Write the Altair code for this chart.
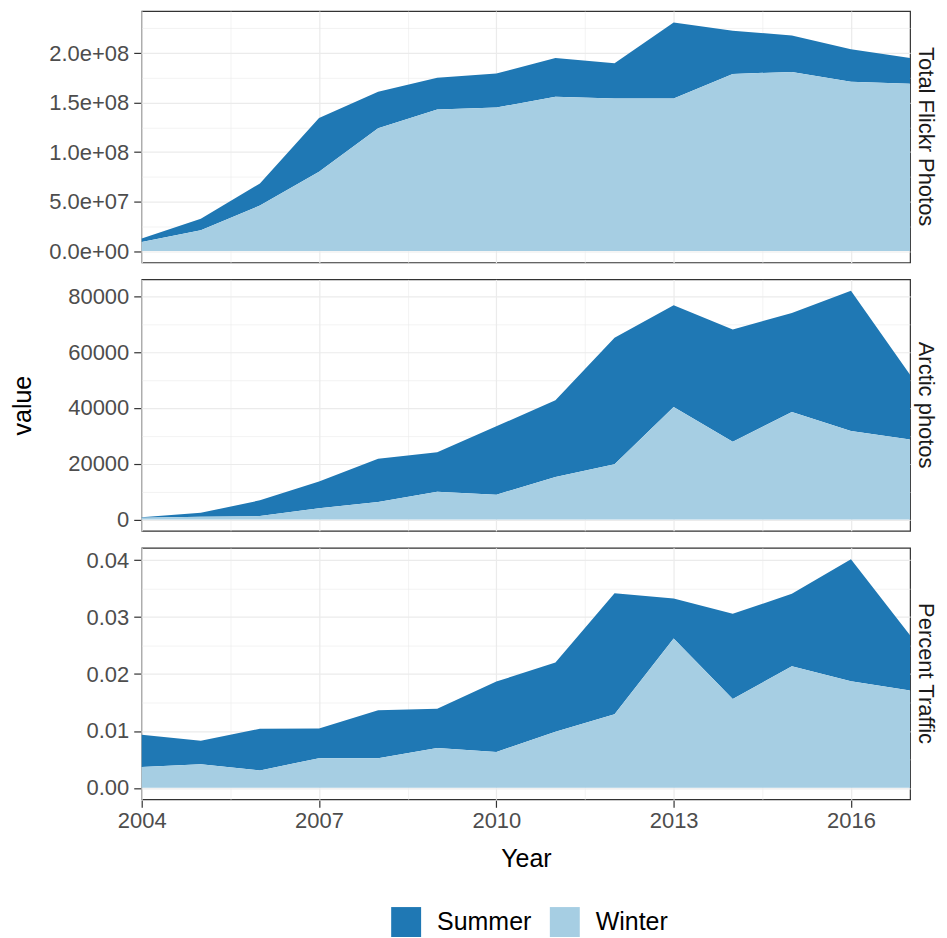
import altair as alt
import pandas as pd

years = list(range(2004, 2018))

flickr_summer = [3.7e6, 1.17e7, 2.23e7, 5.43e7, 3.7e7, 3.2e7, 3.43e7, 3.9e7, 3.57e7, 7.7e7, 4.37e7, 3.67e7, 3.3e7, 2.6e7]
flickr_winter = [9.0e6, 2.1e7, 4.6e7, 8.0e7, 1.24e8, 1.43e8, 1.45e8, 1.56e8, 1.54e8, 1.54e8, 1.79e8, 1.81e8, 1.71e8, 1.69e8]

arctic_summer = [230, 1370, 5670, 9630, 15500, 14110, 24520, 27580, 45380, 36500, 40290, 35560, 50240, 23200]
arctic_winter = [600, 1000, 1200, 4000, 6300, 9950, 8900, 15200, 19800, 40300, 27850, 38500, 31760, 28700]

traffic_summer = [0.00568, 0.00412, 0.00731, 0.00521, 0.0084, 0.0069, 0.01235, 0.01217, 0.02127, 0.00702, 0.015, 0.0127, 0.02145, 0.00974]
traffic_winter = [0.00365, 0.00417, 0.00307, 0.00522, 0.00522, 0.00701, 0.00632, 0.00986, 0.01293, 0.02626, 0.0156, 0.02139, 0.01872, 0.0171]

metrics = ["Total Flickr Photos", "Arctic photos", "Percent Traffic"]
seasons = ["Summer", "Winter"]
season_colors = ["#1F78B4", "#A6CEE3"]

x_ticks = [2004, 2005.5, 2007, 2008.5, 2010, 2011.5, 2013, 2014.5, 2016]
y_ticks_flickr = [0, 2.5e7, 5e7, 7.5e7, 1e8, 1.25e8, 1.5e8, 1.75e8, 2e8, 2.25e8]
y_ticks_arctic = [0, 10000, 20000, 30000, 40000, 50000, 60000, 70000, 80000]
y_ticks_traffic = [0, 0.005, 0.01, 0.015, 0.02, 0.025, 0.03, 0.035, 0.04]

FONT = "Liberation Sans"
GRID = "#EBEBEB"
DARK = "#333333"

x_minor = "datum.value % 3 != 0"


def cond(test, a, b):
    return {"condition": {"test": test, "value": a}, "value": b}


def panel(metric, summer, winter, yvals, minor_test, label_expr, bottom, ytitle):
    rows = []
    for i, yr in enumerate(years):
        rows.append({"metric": metric, "Year": yr, "season": "Summer", "value": summer[i], "rank": 1})
        rows.append({"metric": metric, "Year": yr, "season": "Winter", "value": winter[i], "rank": 0})
    df = pd.DataFrame(rows)
    mx = max(s + w for s, w in zip(summer, winter))
    lo, hi = -0.05 * mx, 1.05 * mx

    if bottom:
        xaxis = alt.Axis(
            values=x_ticks, format="d",
            labelExpr="datum.value % 3 == 0 ? datum.label : ''",
            labelFlush=False, labelOverlap=False,
            labelFontSize=22, labelColor="#4D4D4D", labelFont=FONT, labelPadding=3,
            tickSize=7, tickColor=DARK, tickWidth=1.2,
            tickOpacity=cond(x_minor, 0, 1),
            gridColor=GRID, gridWidth=cond(x_minor, 0.6, 1.2),
            domain=False, title="Year", titleFontSize=25, titleFont=FONT,
            titleFontWeight="normal", titleColor="#000000", titlePadding=15,
        )
    else:
        xaxis = alt.Axis(
            values=x_ticks, labels=False, ticks=False, domain=False, title=None,
            gridColor=GRID, gridWidth=cond(x_minor, 0.6, 1.2),
        )

    yaxis_kwargs = dict(
        values=yvals, labelExpr=label_expr, labelFlush=False, labelOverlap=False,
        labelFontSize=22, labelColor="#4D4D4D", labelFont=FONT, labelPadding=5,
        tickSize=7, tickColor=DARK, tickWidth=1.2,
        tickOpacity=cond(minor_test, 0, 1),
        gridColor=GRID, gridWidth=cond(minor_test, 0.6, 1.2),
        domain=False,
    )
    if ytitle:
        yaxis = alt.Axis(title=ytitle, titleFontSize=25, titleFont=FONT,
                         titleFontWeight="normal", titleColor="#000000",
                         titlePadding=32, **yaxis_kwargs)
    else:
        yaxis = alt.Axis(title=None, **yaxis_kwargs)

    base = alt.Chart(df).mark_area(opacity=1).encode(
        x=alt.X("Year:Q", axis=xaxis,
                scale=alt.Scale(domain=[2004, 2017], nice=False, zero=False)),
        y=alt.Y("value:Q", stack="zero", axis=yaxis,
                scale=alt.Scale(domain=[lo, hi], nice=False, zero=False)),
        color=alt.Color("season:N",
                        scale=alt.Scale(domain=seasons, range=season_colors),
                        legend=alt.Legend(
                            orient="none", legendX=250, legendY=898,
                            direction="horizontal", title=None,
                            symbolType="square", symbolSize=900,
                            symbolStrokeWidth=0, symbolOpacity=1,
                            labelFontSize=25, labelFont=FONT, labelColor="#000000",
                            labelOffset=16, columnPadding=18,
                        )),
        order=alt.Order("rank:Q"),
    ).properties(width=770, height=252)

    return base.facet(
        row=alt.Row("metric:N", title=None,
                    header=alt.Header(labelOrient="right", labelAngle=90,
                                      labelFontSize=22, labelFont=FONT,
                                      labelColor="#1A1A1A", labelPadding=3))
    )


p1 = panel(metrics[0], flickr_summer, flickr_winter, y_ticks_flickr,
           "datum.value % 50000000 != 0",
           "datum.value % 50000000 == 0 ? replace(format(datum.value, '.1e'), 'e+', 'e+0') : ''",
           False, None)
p2 = panel(metrics[1], arctic_summer, arctic_winter, y_ticks_arctic,
           "datum.value % 20000 != 0",
           "datum.value % 20000 == 0 ? format(datum.value, 'd') : ''",
           False, "value")
p3 = panel(metrics[2], traffic_summer, traffic_winter, y_ticks_traffic,
           "round(datum.value * 200) % 2 != 0",
           "round(datum.value * 200) % 2 == 0 ? format(datum.value, '.2f') : ''",
           True, None)

chart = alt.vconcat(p1, p2, p3, spacing=15).resolve_scale(color="shared").properties(
    padding={"left": 2, "top": 1, "right": 2, "bottom": 0}
).configure_view(
    stroke=DARK, strokeWidth=1.2, fill="white"
).configure(
    background="white",
    style={"cell": {"stroke": DARK, "strokeWidth": 1.2}},
)

chart.save("out.html", embed_options={"renderer": "svg", "actions": False})
